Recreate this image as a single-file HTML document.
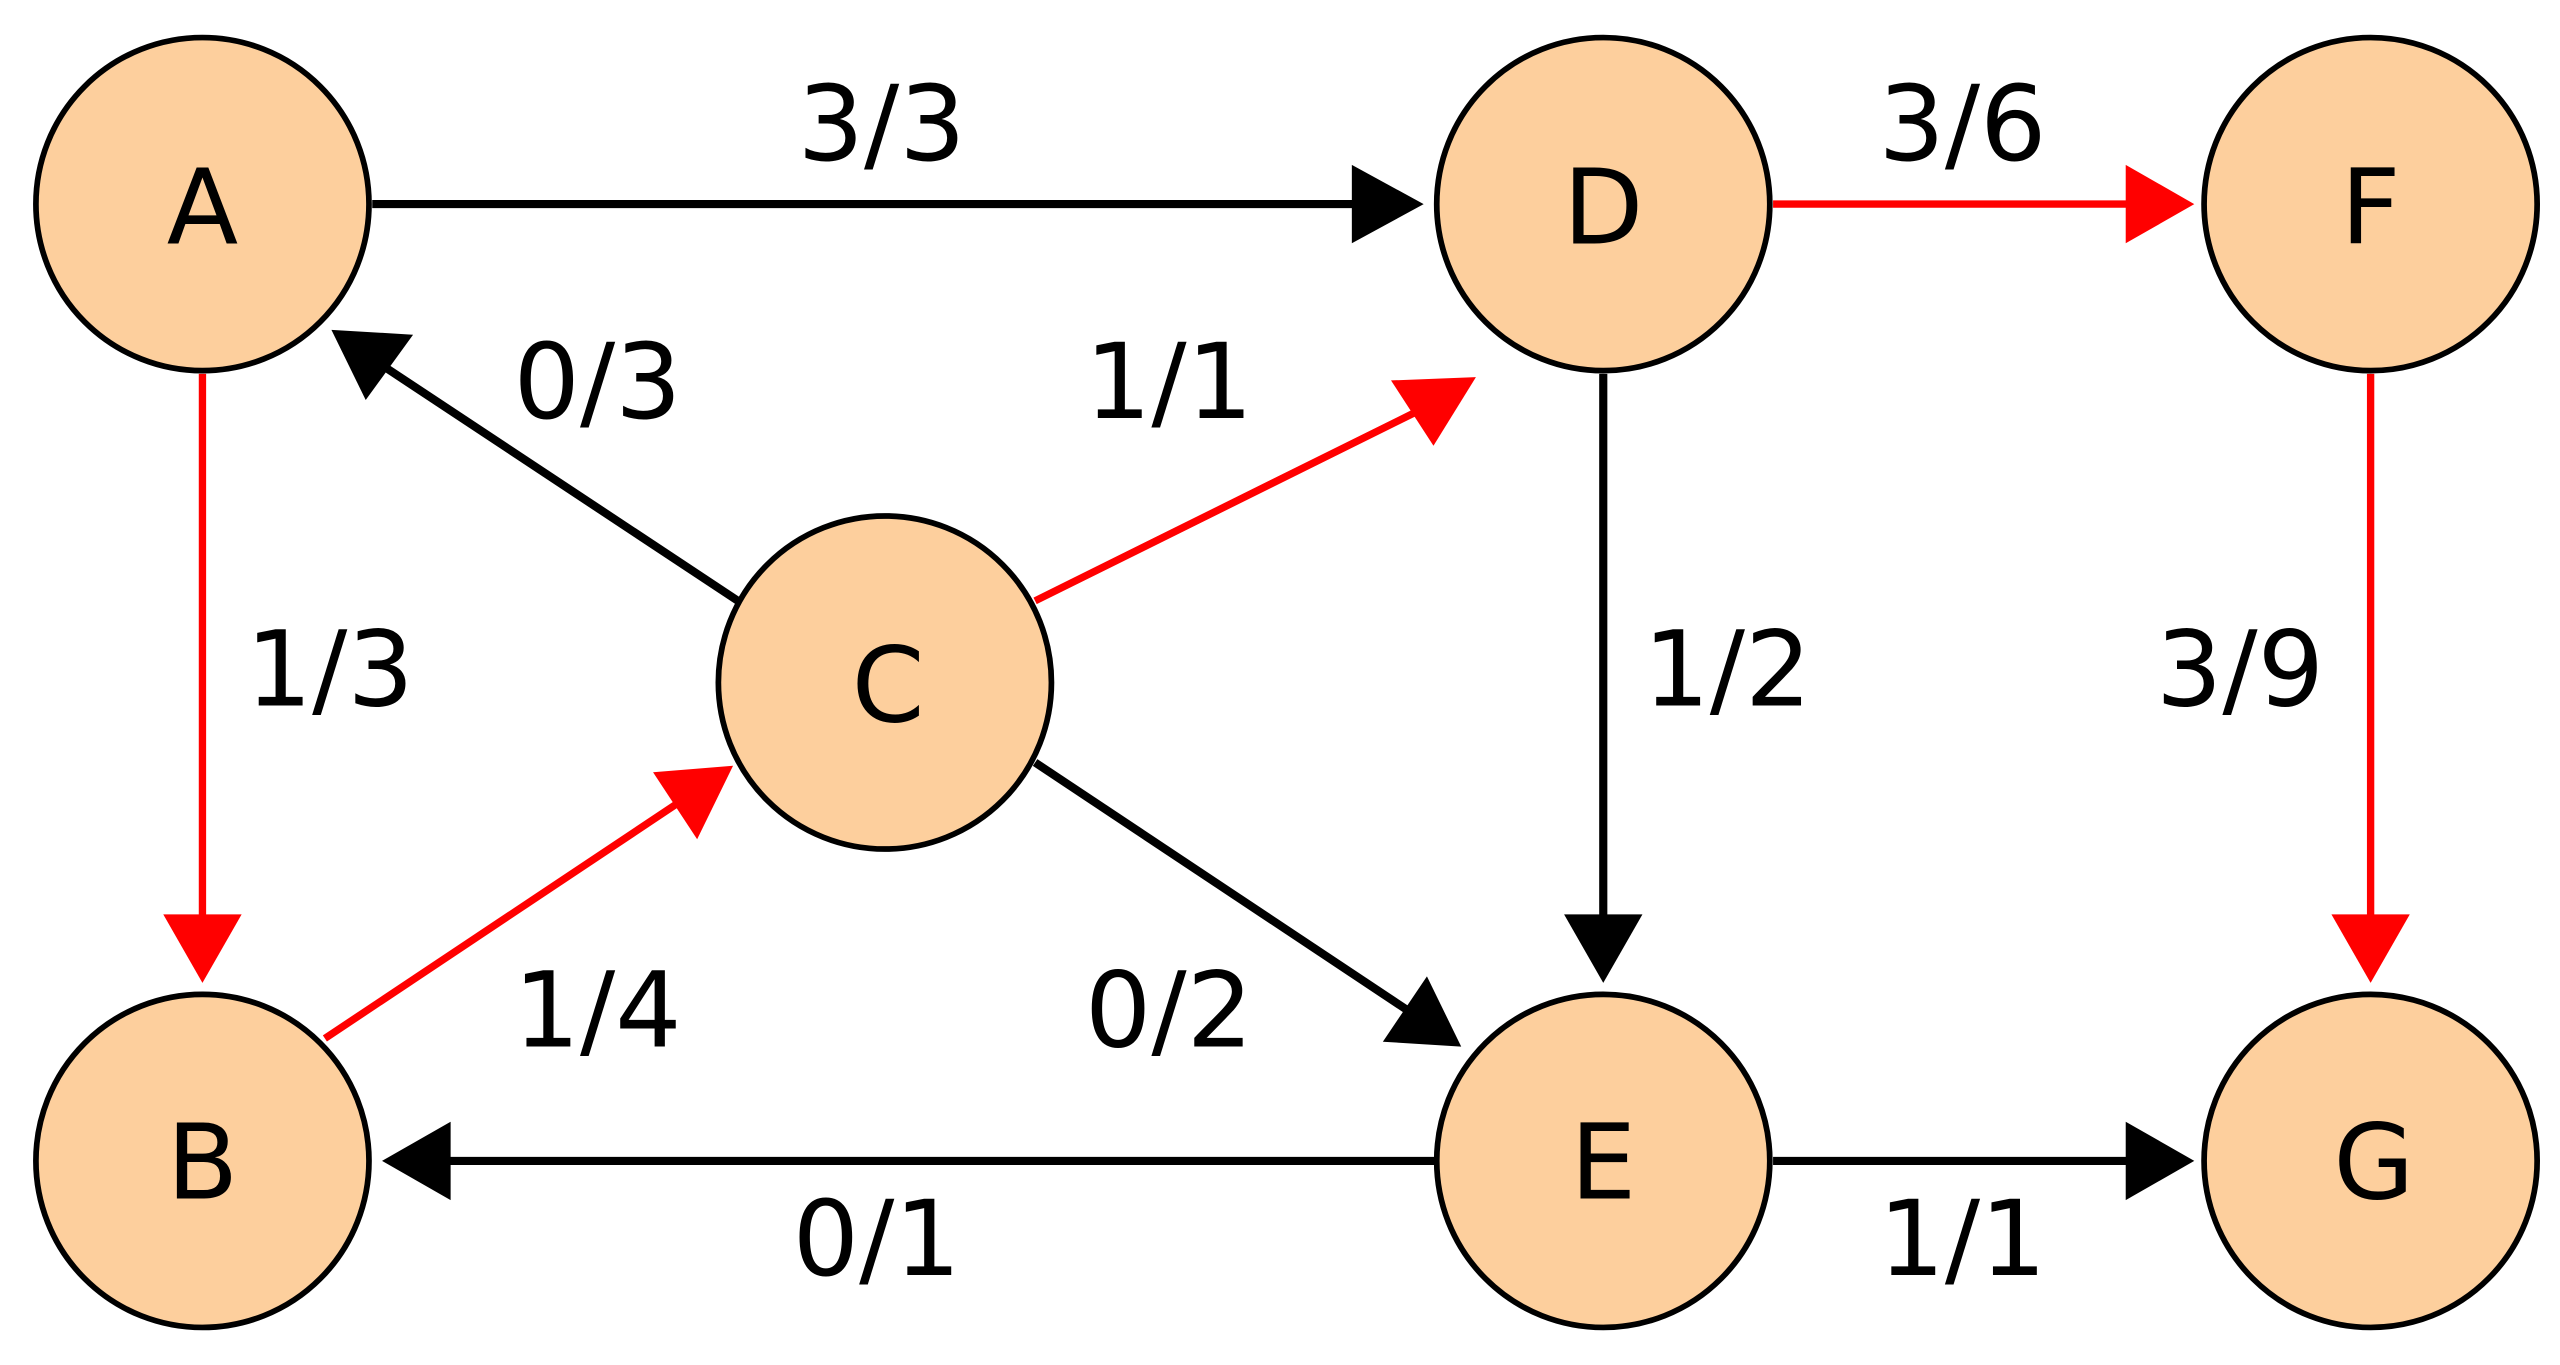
<!DOCTYPE html>
<html><head><meta charset="utf-8"><style>
html,body{margin:0;padding:0;background:#fff;}
svg{display:block}
text{font-family:"DejaVu Sans","Liberation Sans",sans-serif;font-size:64px;text-anchor:middle;fill:#000}
</style></head><body>
<svg width="2560" height="1365" viewBox="0 0 1568 836" preserveAspectRatio="none" xmlns="http://www.w3.org/2000/svg">
<rect width="1568" height="836" fill="#fff"/>
<g stroke-width="5" fill="none">
<line x1="228" y1="125" x2="832" y2="125" stroke="#000"/>
<line x1="1086" y1="125" x2="1304" y2="125" stroke="#f00" stroke-width="4.5"/>
<line x1="124" y1="229" x2="124" y2="562" stroke="#f00" stroke-width="4.5"/>
<line x1="982" y1="229" x2="982" y2="562" stroke="#000"/>
<line x1="1452" y1="229" x2="1452" y2="562" stroke="#f00" stroke-width="4.5"/>
<line x1="880" y1="711" x2="274" y2="711" stroke="#000"/>
<line x1="1086" y1="711" x2="1304" y2="711" stroke="#000"/>
<line x1="452" y1="368" x2="236" y2="225" stroke="#000"/>
<line x1="634" y1="368" x2="868" y2="252" stroke="#f00" stroke-width="4.5"/>
<line x1="199" y1="636" x2="415" y2="492" stroke="#f00" stroke-width="4.5"/>
<line x1="634" y1="467" x2="864" y2="620" stroke="#000"/>
</g>
<polygon points="828,101 872,125 828,149" fill="#000"/>
<polygon points="1302,101 1344,125 1302,149" fill="#f00"/>
<polygon points="100,560 124,602 148,560" fill="#f00"/>
<polygon points="958,560 982,602 1006,560" fill="#000"/>
<polygon points="1428,560 1452,602 1476,560" fill="#f00"/>
<polygon points="276,687 234,711 276,735" fill="#000"/>
<polygon points="1302,687 1344,711 1302,735" fill="#000"/>
<polygon points="203,202 253,205 224,245" fill="#000"/>
<polygon points="904,231 852,233 878,273" fill="#f00"/>
<polygon points="449,469 400,473 427,514" fill="#f00"/>
<polygon points="895,641 874,598 847,638" fill="#000"/>
<g fill="#fdcf9d" stroke="#000" stroke-width="3.5">
<circle cx="124" cy="125" r="102"/>
<circle cx="982" cy="125" r="102"/>
<circle cx="1452" cy="125" r="102"/>
<circle cx="542" cy="418" r="102"/>
<circle cx="124" cy="711" r="102"/>
<circle cx="982" cy="711" r="102"/>
<circle cx="1452" cy="711" r="102"/>
</g>
<text x="124" y="149">A</text>
<text x="982" y="149">D</text>
<text x="1452" y="149">F</text>
<text x="544" y="442">C</text>
<text x="124" y="734">B</text>
<text x="982" y="734">E</text>
<text x="1454" y="734">G</text>
<text x="540" y="98">3/3</text>
<text x="1202" y="98">3/6</text>
<text x="366" y="256">0/3</text>
<text x="716" y="256">1/1</text>
<text x="202" y="432">1/3</text>
<text x="1058" y="432">1/2</text>
<text x="1372" y="432">3/9</text>
<text x="366" y="641">1/4</text>
<text x="716" y="641">0/2</text>
<text x="537" y="781">0/1</text>
<text x="1202" y="781">1/1</text>
</svg>
</body></html>
